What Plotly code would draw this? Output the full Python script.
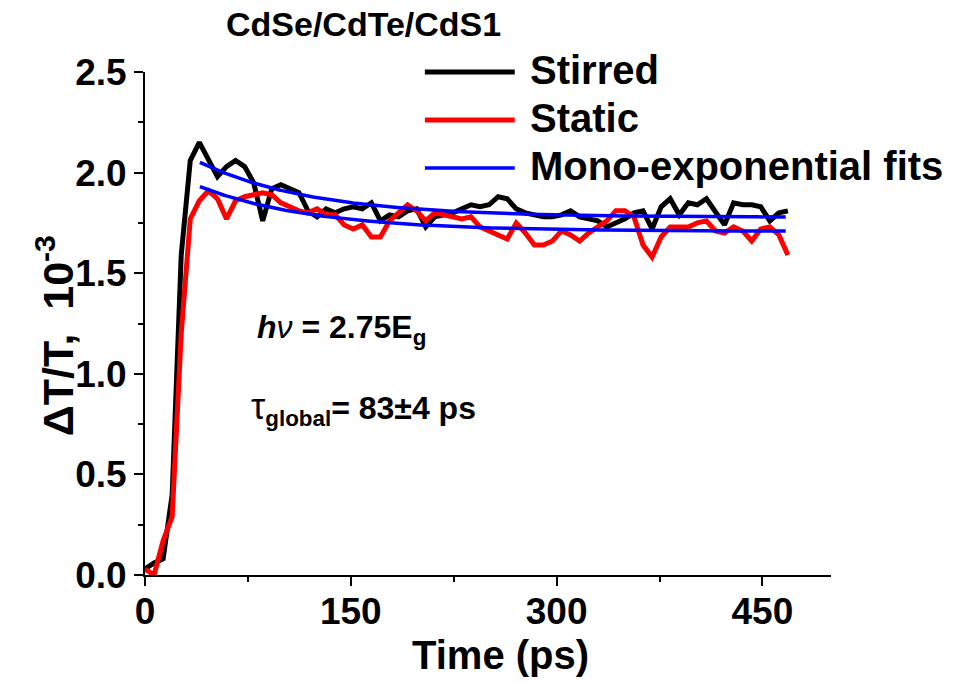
import numpy as np
import plotly.graph_objects as go

# Delay times (ps)
time_ps = [0, 6.6, 13.2, 19.8, 26.4, 33.0, 39.6, 46.2, 52.8, 59.4,
           66.0, 72.6, 79.2, 85.8, 92.4, 99.0, 105.6, 112.2, 118.8, 125.4,
           132.0, 138.6, 145.2, 151.8, 158.4, 165.0, 171.6, 178.2, 184.8, 191.4,
           198.0, 204.6, 211.2, 217.8, 224.4, 231.0, 237.6, 244.2, 250.8, 257.4,
           264.0, 270.6, 277.2, 283.8, 290.4, 297.0, 303.6, 310.2, 316.8, 323.4,
           330.0, 336.6, 343.2, 349.8, 356.4, 363.0, 369.6, 376.2, 382.8, 389.4,
           396.0, 402.6, 409.2, 415.8, 422.4, 429.0, 435.6, 442.2, 448.8, 455.4,
           462.0, 468.6]

# Differential transmission, units of 1e-3
stirred = [0.03, 0.06, 0.08, 0.40, 1.59, 2.06, 2.15, 2.07, 1.98, 2.03,
           2.06, 2.03, 1.95, 1.76, 1.92, 1.94, 1.92, 1.90, 1.81, 1.78,
           1.82, 1.80, 1.82, 1.83, 1.82, 1.85, 1.76, 1.79, 1.78, 1.81,
           1.82, 1.73, 1.78, 1.79, 1.80, 1.82, 1.84, 1.83, 1.84, 1.88,
           1.87, 1.82, 1.80, 1.79, 1.78, 1.78, 1.79, 1.81, 1.78, 1.77,
           1.76, 1.73, 1.75, 1.77, 1.80, 1.81, 1.72, 1.83, 1.87, 1.79,
           1.85, 1.84, 1.87, 1.80, 1.74, 1.85, 1.84, 1.84, 1.83, 1.76,
           1.80, 1.81]

static = [0.03, 0.00, 0.17, 0.29, 1.20, 1.77, 1.86, 1.91, 1.87, 1.77,
          1.86, 1.88, 1.89, 1.90, 1.89, 1.85, 1.83, 1.81, 1.80, 1.82,
          1.79, 1.79, 1.74, 1.72, 1.74, 1.68, 1.68, 1.76, 1.80, 1.84,
          1.81, 1.76, 1.80, 1.79, 1.78, 1.77, 1.78, 1.73, 1.71, 1.69,
          1.67, 1.75, 1.70, 1.64, 1.64, 1.66, 1.71, 1.69, 1.66, 1.70,
          1.73, 1.76, 1.81, 1.81, 1.78, 1.64, 1.58, 1.68, 1.73, 1.73,
          1.73, 1.75, 1.76, 1.71, 1.70, 1.73, 1.71, 1.66, 1.72, 1.73,
          1.69, 1.59]

# Global mono-exponential fit: y = offset + amp * exp(-t / tau)
tau_global = 83.0
fit_start, fit_end = 40.0, 467.0
fit_stirred = dict(offset=1.778, amp=0.442)
fit_static = dict(offset=1.708, amp=0.360)

x_ticks = [0, 150, 300, 450]
y_ticks = [0.0, 0.5, 1.0, 1.5, 2.0, 2.5]

BLACK, RED, BLUE = "#000000", "#ff0000", "#0000ff"
FONT = "Liberation Sans, Arial, sans-serif"

t_fit = np.linspace(fit_start, fit_end, 200)

fig = go.Figure()
fig.add_trace(go.Scatter(x=time_ps, y=stirred, mode="lines", name="Stirred",
                         line=dict(color=BLACK, width=5), showlegend=False))
fig.add_trace(go.Scatter(x=time_ps, y=static, mode="lines", name="Static",
                         line=dict(color=RED, width=5), showlegend=False))
for p in (fit_stirred, fit_static):
    fig.add_trace(go.Scatter(x=t_fit, y=p["offset"] + p["amp"] * np.exp(-t_fit / tau_global),
                             mode="lines", name="Mono-exponential fits",
                             line=dict(color=BLUE, width=3.5), showlegend=False))

axis_common = dict(showgrid=False, zeroline=False, showline=True, linecolor="black",
                   linewidth=2, ticks="outside", ticklen=9, tickwidth=2, tickcolor="black",
                   tickfont=dict(family=FONT, size=37, color="black", weight="bold"))

fig.update_xaxes(range=[0, 500], tickvals=x_ticks, ticktext=[str(v) for v in x_ticks],
                 minor=dict(ticks="outside", ticklen=5, tickwidth=2, tickcolor="black",
                            dtick=75, tick0=0),
                 ticklabelstandoff=-6,
                 **axis_common)
fig.update_yaxes(range=[0, 2.5], tickvals=y_ticks, ticktext=[f"{v:.1f}" for v in y_ticks],
                 minor=dict(ticks="outside", ticklen=5, tickwidth=2, tickcolor="black",
                            dtick=0.25, tick0=0),
                 **axis_common)


def label(text, x, y, size, xref="paper", yref="paper", xanchor="center", **kw):
    return dict(text=text, x=x, y=y, xref=xref, yref=yref, xanchor=xanchor,
                yanchor="middle", showarrow=False,
                font=dict(family=FONT, size=size, color="black"), **kw)


annotations = [
    label("<b>CdSe/CdTe/CdS1</b>", 0.318, 1.095, 34),
    label("<b>Time (ps)</b>", 0.5175, -0.159, 40),
    label("<b>ΔT/T,  10<sup>-3</sup></b>", -0.131, 0.475, 43, textangle=-90),
    label("<b><i>h</i></b><i>ν</i><b> = 2.75E<sub>g</sub></b>", 80, 1.22, 32,
          xref="x", yref="y", xanchor="left"),
    label("<span style='font-size:36px'>τ</span><b><sub>global</sub>= 83±4 ps</b>",
          76, 0.83, 32, xref="x", yref="y", xanchor="left"),
]

# Legend drawn as line samples with labels
legend_items = [("Stirred", BLACK, 5, 1.0), ("Static", RED, 5, 0.9046),
                ("Mono-exponential fits", BLUE, 3.5, 0.809)]
shapes = []
for name, color, width, yp in legend_items:
    shapes.append(dict(type="line", xref="paper", yref="paper", x0=0.408, x1=0.539,
                       y0=yp, y1=yp, line=dict(color=color, width=width)))
    annotations.append(label(f"<b>{name}</b>", 0.558, yp + 0.004, 40, xanchor="left"))

fig.update_layout(width=955, height=684, margin=dict(l=145, r=124, t=72, b=109),
                  plot_bgcolor="white", paper_bgcolor="white",
                  annotations=annotations, shapes=shapes)

fig.write_html("out.html")
